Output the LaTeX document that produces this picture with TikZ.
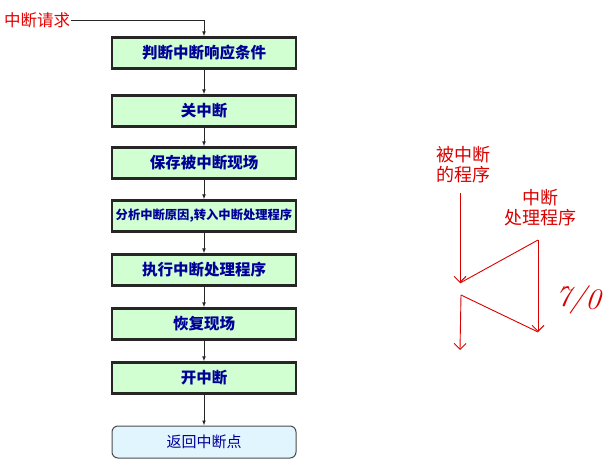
\documentclass[tikz,border=0pt]{standalone}
\usepackage{fontspec}
\newfontfamily\cjk{Noto Sans CJK SC}
\usetikzlibrary{arrows.meta}
\begin{document}
\begin{tikzpicture}[x=1pt,y=-1pt,
  stepbox/.style={draw=black!85,line width=2.2pt,fill=green!18,minimum width=184pt,minimum height=31pt,font=\cjk\bfseries\fontsize{15.5}{17}\selectfont,text=blue!60!black},
  endbox/.style={draw=black!70,line width=1pt,rounded corners=6pt,fill=cyan!12,minimum width=184pt,minimum height=32pt,font=\cjk\fontsize{15}{17}\selectfont,text=blue!60!black},
  flow/.style={-{Latex[length=5pt]},line width=0.9pt,black!85},
  hand/.style={red!85!black,line width=0.9pt},
  handarr/.style={hand,-{Straight Barb[length=6pt]}},
  redtxt/.style={text=red!85!black,font=\cjk\fontsize{18}{20}\selectfont,align=center}]
\useasboundingbox (0,0) rectangle (611,476);
\fill[white] (0,0) rectangle (611,476);
\node[text=red!90!black,font=\cjk\fontsize{16.5}{18}\selectfont,anchor=west,inner sep=1pt] (req) at (3,20) {中断请求};
\node[stepbox] (b1) at (204,53) {判断中断响应条件};
\node[stepbox] (b2) at (204,111) {关中断};
\node[stepbox] (b3) at (204,163) {保存被中断现场};
\node[stepbox,font=\cjk\bfseries\fontsize{12.3}{15}\selectfont] (b4) at (204,216) {分析中断原因,转入中断处理程序};
\node[stepbox] (b5) at (204,270) {执行中断处理程序};
\node[stepbox] (b6) at (204,324) {恢复现场};
\node[stepbox] (b7) at (204,378) {开中断};
\node[endbox] (b8) at (204,442) {返回中断点};
\draw[flow] (req.east) -| (b1.north);
\foreach \a/\b in {b1/b2,b2/b3,b3/b4,b4/b5,b5/b6,b6/b7,b7/b8} \draw[flow] (\a) -- (\b);
\node[redtxt] (l1) at (463,165) {被中断\\的程序};
\node[redtxt] (l2) at (540,208) {中断\\处理程序};
\coordinate (p1) at (460,193); \coordinate (p2) at (460,283);
\coordinate (p3) at (538,240); \coordinate (p4) at (538,332);
\coordinate (p5) at (461,295); \coordinate (p6) at (460,350);
\draw[handarr] (p1) -- (p2);
\draw[hand] (p2) -- (p3);
\draw[handarr] (p3) -- (p4);
\draw[hand] (p5) -- (p4);
\draw[handarr] (p5) -- (p6);
\node[text=red!85!black,font=\fontsize{30}{30}\itshape,rotate=-5] (t) at (578,300) {7/0};
\end{tikzpicture}
\end{document}
